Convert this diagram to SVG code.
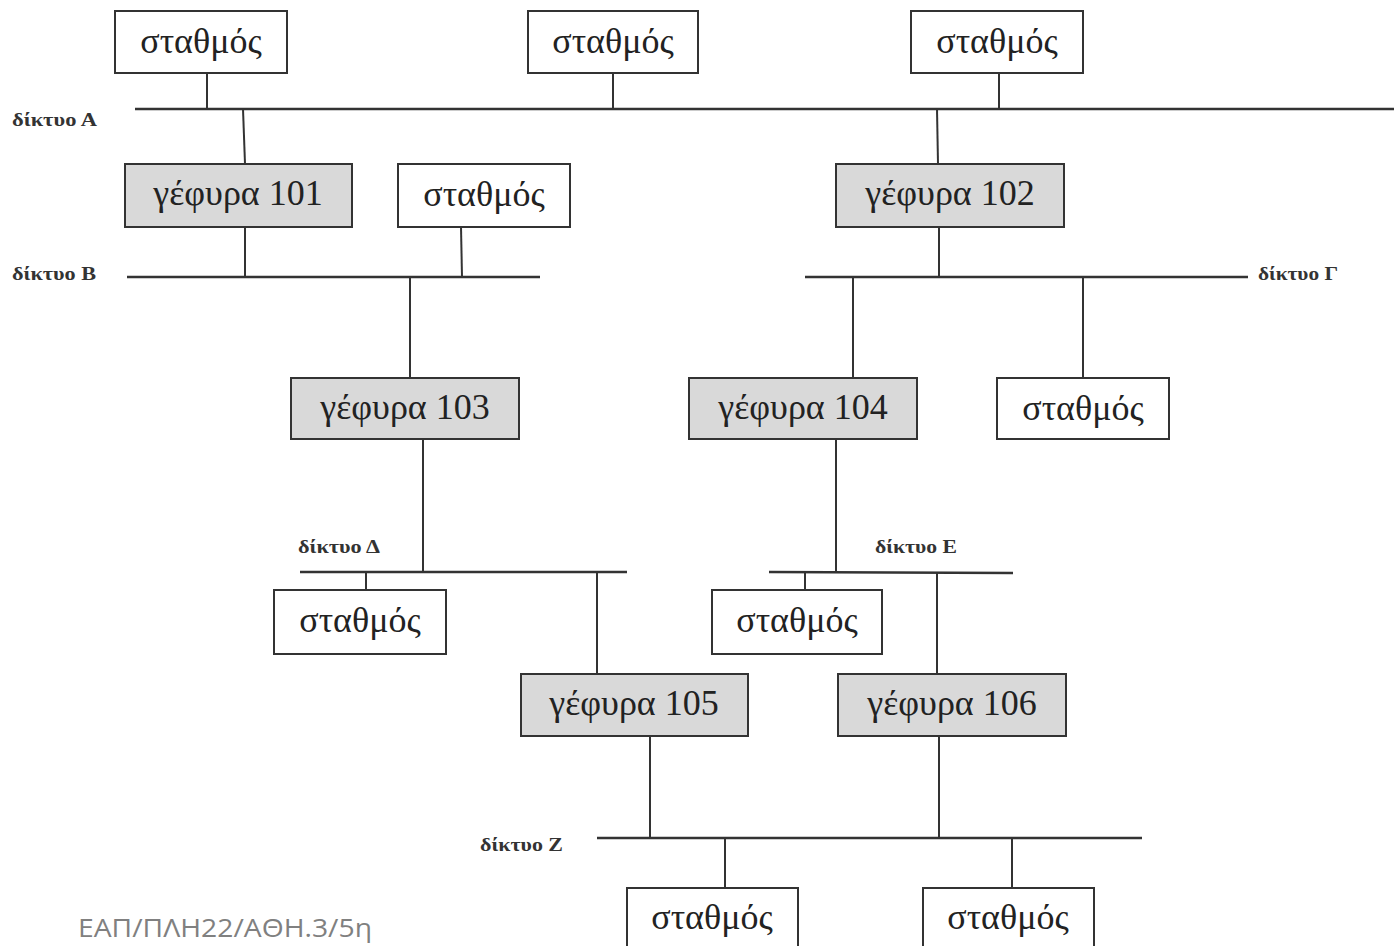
<svg xmlns="http://www.w3.org/2000/svg" width="1394" height="946" viewBox="0 0 1394 946">
<style>
.box{fill:#ffffff;stroke:#333333;stroke-width:2}
.br{fill:#d9d9d9;stroke:#333333;stroke-width:2}
.t{font-family:"Liberation Serif","DejaVu Serif",serif;font-size:36px;fill:#222222;text-anchor:middle}
.lbl{font-family:"Liberation Serif","DejaVu Serif",serif;font-size:19px;font-weight:bold;fill:#333333}
.ln{stroke:#333333;stroke-width:2;fill:none}
.bus{stroke:#333333;stroke-width:2.5;fill:none}
.foot{font-family:"Open Sans","Noto Sans",sans-serif;font-size:25px;fill:#808080}
</style>
<rect width="1394" height="946" fill="#ffffff"/>
<g id="connectors">
<line class="bus" x1="135" y1="109" x2="1394" y2="109"/>
<line class="bus" x1="127" y1="277" x2="540" y2="277"/>
<line class="bus" x1="805" y1="277" x2="1248" y2="277"/>
<line class="bus" x1="300" y1="572" x2="627" y2="572"/>
<line class="bus" x1="769" y1="572" x2="1013" y2="573"/>
<line class="bus" x1="597" y1="838" x2="1142" y2="838"/>
<line class="ln" x1="207" y1="73" x2="207" y2="109"/>
<line class="ln" x1="613" y1="73" x2="613" y2="109"/>
<line class="ln" x1="999" y1="73" x2="999" y2="109"/>
<line class="ln" x1="243" y1="109" x2="245" y2="164"/>
<line class="ln" x1="937" y1="109" x2="938" y2="164"/>
<line class="ln" x1="245" y1="227" x2="245" y2="277"/>
<line class="ln" x1="461" y1="227" x2="462" y2="277"/>
<line class="ln" x1="939" y1="227" x2="939" y2="277"/>
<line class="ln" x1="410" y1="277" x2="410" y2="378"/>
<line class="ln" x1="853" y1="277" x2="853" y2="378"/>
<line class="ln" x1="1083" y1="277" x2="1083" y2="378"/>
<line class="ln" x1="423" y1="439" x2="423" y2="572"/>
<line class="ln" x1="366" y1="572" x2="366" y2="590"/>
<line class="ln" x1="597" y1="572" x2="597" y2="674"/>
<line class="ln" x1="836" y1="439" x2="836" y2="572"/>
<line class="ln" x1="805" y1="572" x2="805" y2="590"/>
<line class="ln" x1="937" y1="573" x2="937" y2="674"/>
<line class="ln" x1="650" y1="736" x2="650" y2="838"/>
<line class="ln" x1="939" y1="736" x2="939" y2="838"/>
<line class="ln" x1="725" y1="838" x2="725" y2="888"/>
<line class="ln" x1="1012" y1="838" x2="1012" y2="888"/>
</g>
<g id="labels">
<text class="lbl" x="12" y="126" textLength="85" lengthAdjust="spacingAndGlyphs">δίκτυο Α</text>
<text class="lbl" x="12" y="280" textLength="84" lengthAdjust="spacingAndGlyphs">δίκτυο Β</text>
<text class="lbl" x="1258" y="280" textLength="80" lengthAdjust="spacingAndGlyphs">δίκτυο Γ</text>
<text class="lbl" x="298" y="553" textLength="82" lengthAdjust="spacingAndGlyphs">δίκτυο Δ</text>
<text class="lbl" x="875" y="553" textLength="82" lengthAdjust="spacingAndGlyphs">δίκτυο Ε</text>
<text class="lbl" x="480" y="851" textLength="83" lengthAdjust="spacingAndGlyphs">δίκτυο Ζ</text>
</g>
<g id="s1"><rect class="box" x="115" y="11" width="172" height="62"/><text class="t" x="201" y="53">σταθμός</text></g>
<g id="s2"><rect class="box" x="528" y="11" width="170" height="62"/><text class="t" x="613" y="53">σταθμός</text></g>
<g id="s3"><rect class="box" x="911" y="11" width="172" height="62"/><text class="t" x="997" y="53">σταθμός</text></g>
<g id="b101"><rect class="br" x="125" y="164" width="227" height="63"/><text class="t" x="238" y="205">γέφυρα 101</text></g>
<g id="s4"><rect class="box" x="398" y="164" width="172" height="63"/><text class="t" x="484" y="206">σταθμός</text></g>
<g id="b102"><rect class="br" x="836" y="164" width="228" height="63"/><text class="t" x="950" y="205">γέφυρα 102</text></g>
<g id="b103"><rect class="br" x="291" y="378" width="228" height="61"/><text class="t" x="405" y="419">γέφυρα 103</text></g>
<g id="b104"><rect class="br" x="689" y="378" width="228" height="61"/><text class="t" x="803" y="419">γέφυρα 104</text></g>
<g id="s5"><rect class="box" x="997" y="378" width="172" height="61"/><text class="t" x="1083" y="420">σταθμός</text></g>
<g id="s6"><rect class="box" x="274" y="590" width="172" height="64"/><text class="t" x="360" y="632">σταθμός</text></g>
<g id="s7"><rect class="box" x="712" y="590" width="170" height="64"/><text class="t" x="797" y="632">σταθμός</text></g>
<g id="b105"><rect class="br" x="521" y="674" width="227" height="62"/><text class="t" x="634" y="715">γέφυρα 105</text></g>
<g id="b106"><rect class="br" x="838" y="674" width="228" height="62"/><text class="t" x="952" y="715">γέφυρα 106</text></g>
<g id="s8"><rect class="box" x="627" y="888" width="171" height="70"/><text class="t" x="712" y="929">σταθμός</text></g>
<g id="s9"><rect class="box" x="923" y="888" width="171" height="70"/><text class="t" x="1008" y="929">σταθμός</text></g>
<text class="foot" x="78" y="937" textLength="294" lengthAdjust="spacingAndGlyphs">ΕΑΠ/ΠΛΗ22/ΑΘΗ.3/5η</text>
</svg>
